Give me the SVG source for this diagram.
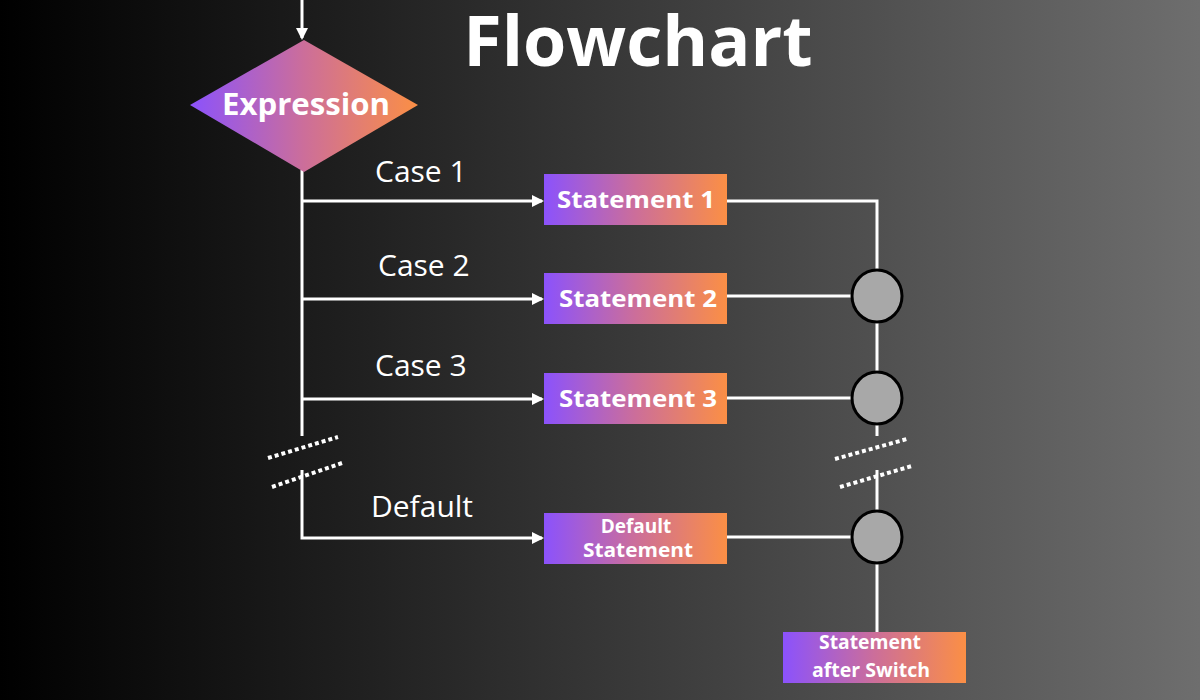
<svg xmlns="http://www.w3.org/2000/svg" width="1200" height="700" viewBox="0 0 1200 700">
<defs>
<linearGradient id="bg" x1="0" x2="1" y1="0" y2="0"><stop offset="0" stop-color="#000"/><stop offset="0.3" stop-color="#202020"/><stop offset="1" stop-color="#6e6e6e"/></linearGradient>
<linearGradient id="g" x1="0" x2="1" y1="0" y2="0"><stop offset="0" stop-color="#8b52fc"/><stop offset="0.5" stop-color="#cc6e9a"/><stop offset="1" stop-color="#fb8f45"/></linearGradient>
<marker id="ar" markerWidth="12" markerHeight="12" refX="10" refY="6" orient="auto" markerUnits="userSpaceOnUse"><path d="M0,0 L12,6 L0,12 z" fill="#fff"/></marker>
<style>
.ln{stroke:#fff;stroke-width:3;fill:none}
.dot{stroke:#fff;stroke-width:4;stroke-dasharray:4 3;fill:none}
.box{fill:url(#g)}
.bt{font-family:"Open Sans","Liberation Sans",sans-serif;font-weight:bold;fill:#fff;text-anchor:middle}
.lb{font-family:"Open Sans","Liberation Sans",sans-serif;fill:#fff;font-size:30px}
.c{fill:#a8a8a8;stroke:#000;stroke-width:3}
</style>
</defs>
<rect width="1200" height="700" fill="url(#bg)"/>
<text x="638" y="66" class="bt" font-size="70">Flowchart</text>
<g id="connectors">
<line class="ln" x1="302" y1="0" x2="302" y2="38" marker-end="url(#ar)"/>
<polyline class="ln" points="302,170 302,436"/>
<polyline class="ln" points="302,470 302,538 542,538" marker-end="url(#ar)"/>
<line class="ln" x1="302" y1="201" x2="542" y2="201" marker-end="url(#ar)"/>
<line class="ln" x1="302" y1="299" x2="542" y2="299" marker-end="url(#ar)"/>
<line class="ln" x1="302" y1="399" x2="542" y2="399" marker-end="url(#ar)"/>
<line class="dot" x1="268" y1="458" x2="338" y2="437"/>
<line class="dot" x1="272" y1="487" x2="342" y2="463"/>
<polyline class="ln" points="727,201 877,201 877,436"/>
<line class="ln" x1="877" y1="470" x2="877" y2="632"/>
<line class="ln" x1="727" y1="296" x2="877" y2="296"/>
<line class="ln" x1="727" y1="398" x2="877" y2="398"/>
<line class="ln" x1="727" y1="537" x2="877" y2="537"/>
<line class="dot" x1="835" y1="459" x2="907" y2="439"/>
<line class="dot" x1="840" y1="487" x2="912" y2="466"/>
</g>
<g id="expression"><polygon class="box" points="190,105 304,40 418,105 304,172"/><text x="306" y="115" class="bt" font-size="30" textLength="168" lengthAdjust="spacingAndGlyphs">Expression</text></g>
<text class="lb" x="375" y="182">Case 1</text>
<text class="lb" x="378" y="276">Case 2</text>
<text class="lb" x="375" y="376">Case 3</text>
<text class="lb" x="371" y="517">Default</text>
<g id="s1"><rect class="box" x="544" y="174" width="183" height="51"/><text x="636" y="208" class="bt" font-size="24" textLength="158" lengthAdjust="spacingAndGlyphs">Statement 1</text></g>
<g id="s2"><rect class="box" x="544" y="273" width="183" height="51"/><text x="638" y="307" class="bt" font-size="24" textLength="158" lengthAdjust="spacingAndGlyphs">Statement 2</text></g>
<g id="s3"><rect class="box" x="544" y="373" width="183" height="51"/><text x="638" y="407" class="bt" font-size="24" textLength="158" lengthAdjust="spacingAndGlyphs">Statement 3</text></g>
<g id="sd"><rect class="box" x="544" y="513" width="183" height="51"/><text x="636" y="533" class="bt" font-size="19">Default</text><text x="638" y="557" class="bt" font-size="19" textLength="110" lengthAdjust="spacingAndGlyphs">Statement</text></g>
<g id="sa"><rect class="box" x="783" y="632" width="183" height="51"/><text x="870" y="649" class="bt" font-size="19" textLength="102" lengthAdjust="spacingAndGlyphs">Statement</text><text x="871" y="677" class="bt" font-size="19" textLength="118" lengthAdjust="spacingAndGlyphs">after Switch</text></g>
<g id="j1"><ellipse class="c" cx="877" cy="296" rx="25" ry="26"/></g>
<g id="j2"><ellipse class="c" cx="877" cy="398" rx="25" ry="26"/></g>
<g id="j3"><ellipse class="c" cx="877" cy="537" rx="25" ry="26"/></g>
</svg>
